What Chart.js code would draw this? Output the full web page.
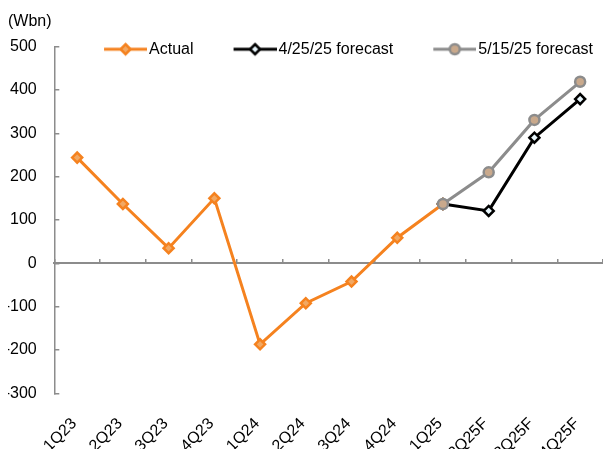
<!DOCTYPE html>
<html>
<head>
<meta charset="utf-8">
<script src="https://cdn.jsdelivr.net/npm/chart.js@4"></script>
<style>
  html, body { margin: 0; padding: 0; background: #fff; }
  canvas { display: block; }
</style>
</head>
<body>
<canvas id="chart" width="603" height="449"></canvas>
<script>
// Quarterly values, Wbn
const quarters = ['1Q23', '2Q23', '3Q23', '4Q23', '1Q24', '2Q24', '3Q24', '4Q24', '1Q25', '2Q25F', '3Q25F', '4Q25F'];
const actual       = [244, 137, 35, 150, -187, -92, -42, 59, 137, null, null, null];
const forecastApr  = [null, null, null, null, null, null, null, null, 137, 121, 290, 379];
const forecastMay  = [null, null, null, null, null, null, null, null, 137, 210, 331, 419];
const seriesNames  = ['Actual', '4/25/25 forecast', '5/15/25 forecast'];
const yMin = -300, yMax = 500, yStep = 100;
const unitLabel = '(Wbn)';

const FONT = '"Liberation Sans", Arial, sans-serif';
const AXIS_GREY = '#8c8c8c';
const ORANGE = '#f5821f', ORANGE_FILL = '#f2a862';
const GREY = '#8c8c8c', GREY_FILL = '#c9a98c';
const BLACK = '#000000', BLACK_FILL = '#e8f6fc';

// Legend symbols: a short line segment with the series marker on it
function legendIcon(lineColor, fillColor, marker) {
  const c = document.createElement('canvas');
  c.width = 79; c.height = 16;
  const g = c.getContext('2d');
  g.strokeStyle = lineColor;
  g.lineWidth = 3;
  g.beginPath(); g.moveTo(36, 8); g.lineTo(79, 8); g.stroke();
  const cx = 57.5, cy = 8, r = 5;
  g.beginPath();
  if (marker === 'circle') {
    g.arc(cx, cy, r, 0, Math.PI * 2);
  } else {
    g.moveTo(cx, cy - r); g.lineTo(cx + r, cy); g.lineTo(cx, cy + r); g.lineTo(cx - r, cy); g.closePath();
  }
  g.fillStyle = fillColor; g.fill();
  g.lineWidth = 2.5; g.strokeStyle = lineColor; g.stroke();
  return c;
}
const icons = [
  legendIcon(ORANGE, ORANGE_FILL, 'diamond'),
  legendIcon(BLACK, BLACK_FILL, 'diamond'),
  legendIcon(GREY, GREY_FILL, 'circle')
];

// The legend row sits over the top edge of the plot: it reserves only a thin
// strip in the layout, then its drawing box is widened so nothing is clipped.
const legendOverlap = {
  id: 'legendOverlap',
  afterLayout(chart) {
    const lg = chart.legend;
    if (lg) { lg.height = 30; lg.bottom = lg.top + 30; }
  }
};

// Let the plot run to the right edge; rotated labels may overflow.
const noSidePadding = (scale) => { scale.paddingLeft = 0; scale.paddingRight = 0; };

new Chart(document.getElementById('chart'), {
  type: 'line',
  plugins: [legendOverlap],
  data: {
    labels: quarters,
    datasets: [
      {
        label: seriesNames[0], data: actual, order: 3,
        borderColor: ORANGE, borderWidth: 3, tension: 0,
        pointStyle: 'rectRot', pointRadius: 5, pointBorderWidth: 2.5,
        pointBorderColor: ORANGE, pointBackgroundColor: ORANGE_FILL
      },
      {
        label: seriesNames[1], data: forecastApr, order: 2,
        borderColor: BLACK, borderWidth: 3, tension: 0,
        pointStyle: 'rectRot', pointRadius: 5, pointBorderWidth: 2.5,
        pointBorderColor: BLACK, pointBackgroundColor: BLACK_FILL
      },
      {
        label: seriesNames[2], data: forecastMay, order: 1,
        borderColor: GREY, borderWidth: 3, tension: 0,
        pointStyle: 'circle', pointRadius: 5, pointBorderWidth: 2.5,
        pointBorderColor: GREY, pointBackgroundColor: GREY_FILL
      }
    ]
  },
  options: {
    responsive: false,
    animation: false,
    devicePixelRatio: 1,
    layout: { autoPadding: false, padding: { left: 8, right: 0, top: 0, bottom: 0 } },
    plugins: {
      tooltip: { enabled: false },
      title: {
        display: true, text: unitLabel, align: 'start', color: '#000',
        font: { family: FONT, size: 16, weight: 'normal', lineHeight: 1.2 },
        padding: { top: 12, bottom: 0 }
      },
      legend: {
        display: true, position: 'top', align: 'end', maxHeight: 15.5,
        labels: {
          usePointStyle: true, pointStyleWidth: 67, padding: 10, color: '#000',
          font: { family: FONT, size: 16 },
          generateLabels: (chart) => chart.data.datasets.map((ds, i) => ({
            text: ds.label, datasetIndex: i, pointStyle: icons[i],
            fillStyle: 'transparent', strokeStyle: 'transparent', lineWidth: 0,
            hidden: false, fontColor: '#000'
          }))
        }
      }
    },
    scales: {
      x: {
        type: 'category', position: 'bottom', offset: true,
        grid: { display: false, drawTicks: false },
        border: { display: false },
        ticks: {
          color: '#000', font: { family: FONT, size: 16 },
          minRotation: 45, maxRotation: 45, autoSkip: false,
          padding: 21, labelOffset: -3
        },
        afterFit: (scale) => { scale.height = 55.7; noSidePadding(scale); }
      },
      // zero line with short upward tick marks between quarters
      xZero: {
        type: 'category', position: { y: 0 }, offset: true,
        grid: {
          display: true, offset: true, drawOnChartArea: false, drawTicks: true,
          tickLength: -5, color: AXIS_GREY, lineWidth: 1.5
        },
        border: { display: true, color: AXIS_GREY, width: 2 },
        ticks: { display: false },
        afterFit: noSidePadding
      },
      y: {
        type: 'linear', position: 'left', min: yMin, max: yMax,
        ticks: {
          stepSize: yStep, color: '#000', padding: 22.6,
          font: { family: FONT, size: 16 }
        },
        grid: {
          display: true, drawOnChartArea: false, drawTicks: true,
          tickLength: -5, color: AXIS_GREY, lineWidth: 1.5
        },
        border: { display: true, color: AXIS_GREY, width: 1.5 },
        afterFit: (scale) => { scale.width = 46.3; }
      }
    }
  }
});
</script>
</body>
</html>
